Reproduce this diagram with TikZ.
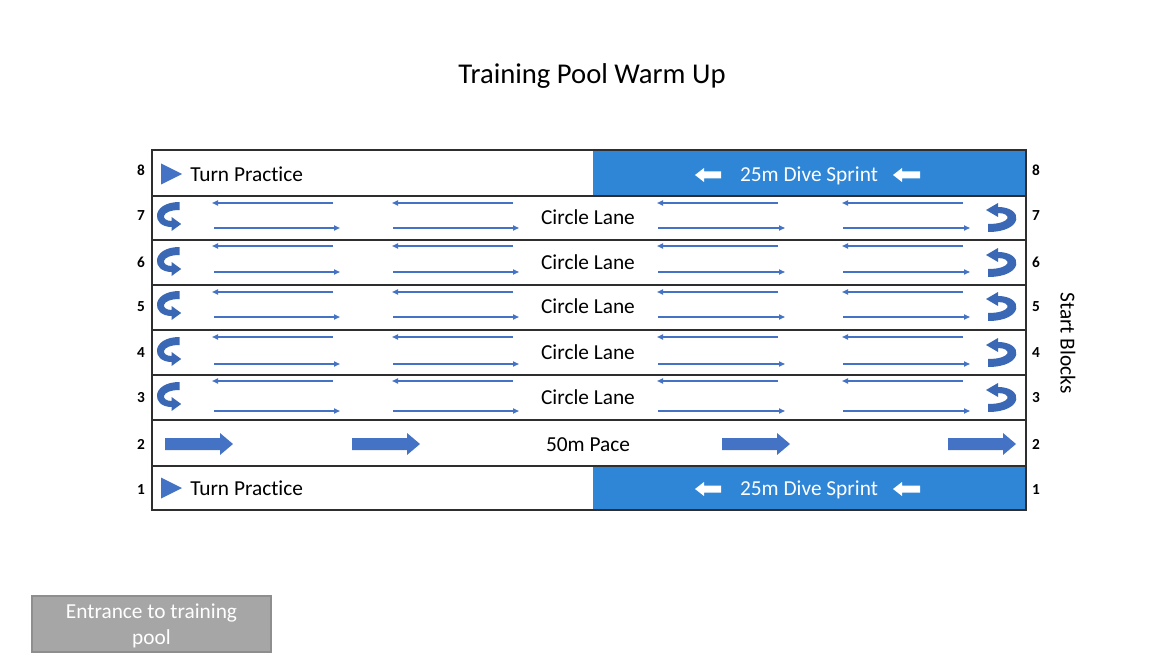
\documentclass[tikz,border=0pt]{standalone}
\usepackage{fontspec}
\setmainfont{Carlito}[Ligatures=NoCommon]
\usetikzlibrary{arrows.meta}
\definecolor{laneblue}{HTML}{2F85D6}
\definecolor{arrowblue}{HTML}{4472C4}
\definecolor{turnblue}{HTML}{3A68B4}
\definecolor{ropegray}{HTML}{2E2E2E}
\definecolor{entrygray}{HTML}{A6A6A6}
\definecolor{entryedge}{HTML}{8E8E8E}
\begin{document}
\begin{tikzpicture}[x=0.75pt,y=-0.75pt,
  lanetext/.style={font=\fontsize{16}{19}\selectfont, inner sep=0pt, text height=11pt, text depth=0pt},
  lanenum/.style={font=\bfseries\fontsize{11.5}{13}\selectfont, inner sep=0pt},
  rope/.style={draw=ropegray, line width=0.9pt},
  swim/.style={arrowblue, line width=1.1pt, -{Triangle[length=4.5pt,width=3.8pt]}},
  entrybox/.style={draw=entryedge, line width=0.8pt, fill=entrygray,
    minimum width=179.25pt, minimum height=42pt, inner sep=0pt},
  entrytext/.style={text=white, inner sep=0pt, align=center,
    font=\fontsize{16}{19.5}\selectfont},
  uturn/.pic={
    \fill[turnblue] (-12,15) .. controls (24,15) and (24,-10) .. (-2,-10)
      -- (-2,-14) -- (-14,-7) -- (-2,0) -- (-2,-4)
      .. controls (12,-4) and (12,7) .. (-12,7) -- cycle;
  }
]
\useasboundingbox (0,0) rectangle (1171,656);

% title
\node[font=\fontsize{21.5}{26}\selectfont] (title) at (592,76) {Training Pool Warm Up};

% dive sprint lanes
\fill[laneblue] (593,150) rectangle (1026,196);
\fill[laneblue] (593,466) rectangle (1026,510);

% pool outline and lane ropes
\draw[rope] (152,150) rectangle (1026,510);
\foreach \y in {196,240,285,330,375,420,466}
  \draw[rope] (152,\y) -- (1026,\y);

% lane numbers on both sides
\foreach \n/\y in {8/170,7/216,6/262,5/307,4/353,3/398,2/444,1/490} {
  \node[lanenum] (numL\n) at (141,\y) {\n};
  \node[lanenum] (numR\n) at (1036,\y) {\n};
}

% circle lanes 7 to 3
\foreach \n/\c/\t/\b in {7/217/203/228, 6/262/246/272, 5/306/292/317, 4/352/337/364, 3/397/381/411} {
  \node[lanetext] (circle\n) at (588,\c) {Circle Lane};
  \foreach \xa/\xb in {212/333, 392/513, 657/778, 842/963}
    \draw[swim] (\xb,\t) -- (\xa,\t);
  \foreach \xa/\xb in {214/340, 393/519, 658/785, 843/970}
    \draw[swim] (\xa,\b) -- (\xb,\b);
  \pic at (1000,\c) {uturn};
  \pic[rotate=180, xscale=0.8] at (170,\c) {uturn};
}

% lane 2: pace arrows
\node[lanetext] (pace) at (588,444) {50m Pace};
\foreach \xa/\xb in {165/233, 352/420, 722/790, 948/1016}
  \fill[arrowblue] (\xa,438) -- (\xb-13,438) -- (\xb-13,433) -- (\xb,444)
    -- (\xb-13,455) -- (\xb-13,450) -- (\xa,450) -- cycle;

% lanes 8 and 1: turn practice and dive sprint
\foreach \n/\y in {8/174,1/488} {
  \fill[arrowblue] (161,\y-10.5) -- (182,\y) -- (161,\y+10.5) -- cycle;
  \node[lanetext, anchor=west] (turn\n) at (190,\y) {Turn Practice};
  \node[lanetext, text=white] (dive\n) at (809,\y) {25m Dive Sprint};
  \foreach \xt/\xe in {695/721, 893/920}
    \fill[white] (\xt,\y+1) -- (\xt+9,\y-6) -- (\xt+9,\y-2.5) -- (\xe,\y-2.5)
      -- (\xe,\y+4.5) -- (\xt+9,\y+4.5) -- (\xt+9,\y+8) -- cycle;
}

% start blocks label
\node[lanetext, rotate=-90] (start) at (1068,343) {Start Blocks};

% entrance
\node[entrybox] (entrance) at (151.5,624) {};
\node[entrytext] (entrancelabel) at (151.5,626) {Entrance to training\\pool};
\end{tikzpicture}
\end{document}
